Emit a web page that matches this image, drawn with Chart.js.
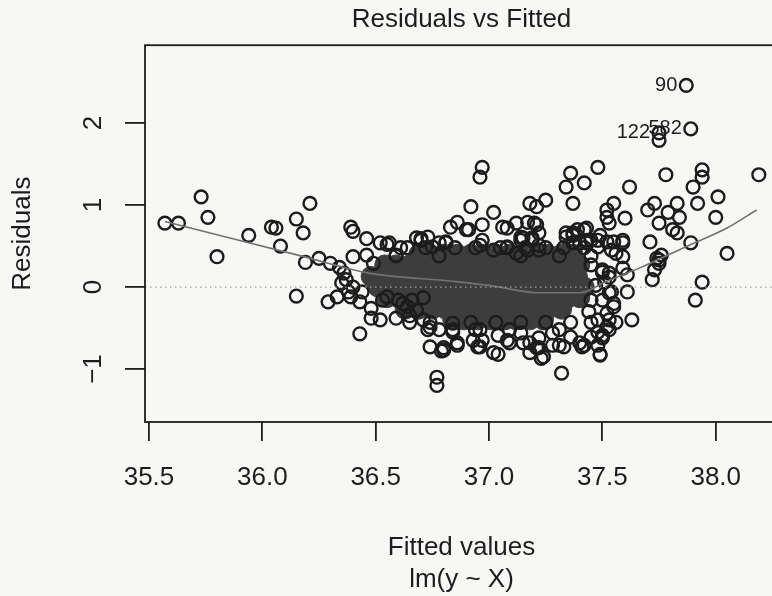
<!DOCTYPE html>
<html>
<head>
<meta charset="utf-8">
<title>Residuals vs Fitted</title>
<script src="https://cdn.jsdelivr.net/npm/chart.js@4.4.0/dist/chart.umd.min.js"></script>
<style>
  html, body { margin: 0; padding: 0; background: #f7f7f5; overflow: hidden; }
  #wrap { width: 772px; height: 596px; overflow: hidden; }
  canvas { display: block; }
</style>
</head>
<body>
<div id="wrap"><canvas id="chart" width="790" height="596"></canvas></div>
<script>
// axis setup
const xTicks = [35.5, 36.0, 36.5, 37.0, 37.5, 38.0];
const yTicks = [-1, 0, 1, 2];
const yTickLabels = ['\u22121', '0', '1', '2'];
const xRange = [35.4824, 38.2747];
const yRange = [-1.646, 2.95];

// open circles: [fitted, residual]
const residPoints = [
  [35.57,0.78],[35.63,0.78],[35.73,1.10],[35.76,0.85],[35.80,0.37],[35.94,0.63],[36.04,0.73],[36.06,0.72],
  [36.08,0.50],[36.15,0.83],[36.21,1.02],[36.18,0.66],[36.19,0.30],[36.15,-0.11],[36.25,0.35],[36.30,0.29],
  [36.34,0.24],[36.36,0.17],[36.29,-0.18],[36.33,-0.12],[36.38,-0.06],[36.39,-0.12],[36.43,-0.18],[36.39,0.73],
  [36.40,0.68],[36.40,0.37],[36.46,0.39],[36.49,0.29],[36.46,0.59],[36.52,0.54],[36.55,0.52],[36.59,0.39],
  [36.64,0.48],[36.68,0.60],[36.70,0.59],[36.81,0.55],[36.86,0.79],[36.48,-0.26],[36.48,-0.38],[36.52,-0.40],
  [36.43,-0.57],[36.59,-0.38],[36.65,-0.35],[36.73,-0.52],[36.74,-0.73],[36.79,-0.78],[36.77,-1.10],[36.77,-1.20],
  [36.84,-0.55],[36.86,-0.68],[36.53,-0.16],[36.55,-0.12],[36.60,-0.16],[36.64,-0.24],[36.68,-0.28],[36.71,-0.40],
  [36.37,0.09],[36.35,0.05],[36.40,0.00],[36.44,-0.06],[36.62,-0.20],[36.66,-0.16],[36.71,-0.13],[36.74,-0.49],
  [36.78,-0.52],[36.84,-0.44],[36.80,-0.74],[36.86,-0.71],[36.95,-0.73],[36.83,0.73],[36.90,0.70],[36.97,0.76],
  [36.81,0.54],[36.70,0.57],[36.75,0.49],[36.73,0.61],[36.56,0.54],
  [37.06,0.73],[37.21,0.76],[37.19,0.60],[37.15,0.60],[37.22,0.51],[37.17,0.45],[37.37,0.63],[37.42,0.70],
  [37.45,0.57],[37.40,0.54],[37.49,0.63],[37.53,0.78],[37.50,0.21],[37.53,0.17],[37.51,0.06],[37.54,-0.06],
  [37.50,-0.16],[37.55,-0.20],[37.52,-0.32],[37.53,-0.40],[37.48,-0.40],[37.48,-0.55],[37.53,-0.52],
  [36.94,-0.52],[36.97,-0.65],[37.04,-0.59],[37.08,-0.65],[37.14,-0.56],[37.18,-0.68],[37.22,-0.62],[37.28,-0.56],
  [37.31,-0.71],[37.36,-0.61],[37.41,-0.73],[37.45,-0.61],[37.50,-0.59],[37.22,-0.74],[37.18,-0.80],
  [36.96,0.51],[37.02,0.45],[37.08,0.49],[37.12,0.41],
  [37.87,2.46],[37.75,1.88],[37.75,1.79],[37.89,1.93],[36.97,1.46],[36.96,1.34],[37.36,1.39],[37.34,1.22],
  [37.42,1.27],[37.48,1.46],[37.37,1.02],[37.62,1.22],[37.78,1.37],[37.94,1.43],[37.94,1.34],[37.90,1.22],
  [37.92,1.02],[38.01,1.10],[38.00,0.85],[38.19,1.37],[36.92,0.98],[37.02,0.91],[36.91,0.70],[37.08,0.72],
  [37.12,0.78],[37.18,1.02],[37.21,0.98],[37.25,1.06],[37.20,0.78],[37.17,0.79],[37.22,0.66],[37.14,0.57],
  [36.78,0.54],[36.97,0.57],[37.34,0.66],[37.39,0.70],[37.43,0.72],[37.37,0.54],[37.43,0.54],[37.48,0.49],
  [37.52,0.55],[37.55,1.02],[37.52,0.94],[37.52,0.85],[37.60,0.84],[37.59,0.57],[37.54,0.45],[37.56,0.41],
  [37.70,0.94],[37.73,1.02],[37.79,0.91],[37.83,1.02],[37.75,0.78],[37.81,0.70],[37.84,0.85],[37.83,0.66],
  [37.71,0.55],[37.74,0.35],[37.75,0.29],[37.89,0.54],[38.05,0.41],
  [37.94,0.06],[37.91,-0.16],[37.72,0.09],[37.73,0.21],[37.75,0.33],[37.76,0.39],[37.61,0.15],[37.61,-0.06],
  [37.63,-0.40],[37.32,-1.05],[37.49,-0.82],[37.42,-0.71],[37.23,-0.87],[37.04,-0.82],[36.80,-0.77],
  [37.53,-0.07],[37.55,-0.24],[37.56,-0.43],[37.50,-0.62],[37.52,-0.49],[37.59,0.54],[37.59,0.37],[37.59,0.23],
  [37.53,0.12],[37.50,0.18],
  [37.08,0.48],[37.14,0.61],[37.19,0.57],[37.22,0.45],[37.34,0.61],[37.37,0.66],[37.43,0.57],[37.48,0.57],
  [37.55,0.55],[36.84,-0.52],[36.93,-0.65],[36.96,-0.73],[37.02,-0.80],[37.09,-0.68],[37.15,-0.68],[37.21,-0.74],
  [37.24,-0.85],[37.28,-0.71],[37.33,-0.73],[37.40,-0.68],[37.48,-0.71],[37.49,-0.83],
  // along the edge of the dense patch
  [36.61,0.48],[36.72,0.48],[36.85,0.48],[36.94,0.48],[37.05,0.48],[37.16,0.48],[37.25,0.48],[37.33,0.48],
  [37.42,0.48],[36.59,0.38],[36.78,0.38],[37.14,0.38],[37.31,0.38],[37.45,0.38],
  [36.65,-0.43],[36.74,-0.43],[36.92,-0.43],[37.03,-0.43],[37.14,-0.43],[37.25,-0.43],[37.36,-0.43],[37.45,-0.43],
  [36.96,-0.52],[37.09,-0.52],[37.31,-0.52],
  [37.45,0.27],[37.47,0.02],[37.45,-0.16],[37.44,-0.30]
];

// the overplotted core, where circles merge into a solid patch
const coreResid = [0.40, 0.27, 0.13, 0.00, -0.13, -0.27, -0.40];
const coreFitted = [
  [36.69, 36.74, 36.80, 36.86, 36.92, 36.97, 37.03, 37.09, 37.15, 37.20, 37.26, 37.32, 37.37],
  [36.54, 36.59, 36.65, 36.71, 36.77, 36.82, 36.88, 36.94, 37.00, 37.05, 37.11, 37.17, 37.22, 37.28, 37.34, 37.40],
  [36.48, 36.53, 36.59, 36.65, 36.70, 36.76, 36.82, 36.88, 36.93, 36.99, 37.05, 37.11, 37.16, 37.22, 37.28, 37.34, 37.39],
  [36.51, 36.56, 36.62, 36.68, 36.74, 36.79, 36.85, 36.91, 36.96, 37.02, 37.08, 37.14, 37.19, 37.25, 37.31, 37.37, 37.42],
  [36.55, 36.60, 36.66, 36.72, 36.77, 36.83, 36.89, 36.95, 37.00, 37.06, 37.12, 37.18, 37.23, 37.29, 37.35, 37.40],
  [36.63, 36.69, 36.75, 36.81, 36.86, 36.92, 36.98, 37.04, 37.09, 37.15, 37.21, 37.26, 37.32],
  [36.84, 36.89, 36.95, 37.01, 37.07, 37.12, 37.18, 37.24]
];

// smoother through the residuals
const smoothFitted = [35.57, 36.17, 36.47, 36.84, 37.00, 37.22, 37.40, 37.52, 37.67, 37.89, 38.05, 38.18];
const smoothResid  = [0.80, 0.38, 0.17, 0.07, 0.02, -0.07, -0.07, 0.07, 0.24, 0.52, 0.72, 0.94];

// labelled observations
const idLabels = ['90', '122', '582'];
const idFitted = [37.87, 37.75, 37.89];
const idResid  = [2.46, 1.88, 1.93];

const FONT = '"Liberation Sans", Arial, Helvetica, sans-serif';
const INK = '#1d1d1d';

const corePoints = [];
coreFitted.forEach((row, i) => row.forEach(x => corePoints.push({ x, y: coreResid[i] })));

const rPlotFrame = {
  id: 'rPlotFrame',
  afterDatasetsDraw(chart) {
    const { ctx, chartArea: a, scales: { x, y } } = chart;
    const y0 = y.getPixelForValue(0);
    ctx.save();
    ctx.strokeStyle = '#a0a0a0';
    ctx.lineWidth = 1.3;
    ctx.setLineDash([1.5, 3.5]);
    ctx.beginPath();
    ctx.moveTo(a.left, y0);
    ctx.lineTo(a.right, y0);
    ctx.stroke();
    ctx.restore();

    ctx.save();
    ctx.fillStyle = INK;
    ctx.font = '20px ' + FONT;
    ctx.textAlign = 'right';
    ctx.textBaseline = 'middle';
    idLabels.forEach((lab, i) => {
      ctx.fillText(lab, x.getPixelForValue(idFitted[i]) - 9, y.getPixelForValue(idResid[i]));
    });
    ctx.restore();
  },
  afterDraw(chart) {
    const { ctx, chartArea: a, scales: { y } } = chart;
    ctx.save();
    ctx.strokeStyle = INK;
    ctx.lineWidth = 1.8;
    ctx.strokeRect(a.left, a.top, a.right - a.left, a.bottom - a.top);

    // R draws the y tick labels parallel to the axis
    ctx.fillStyle = INK;
    ctx.font = '26px ' + FONT;
    ctx.textAlign = 'center';
    ctx.textBaseline = 'alphabetic';
    yTicks.forEach((v, i) => {
      ctx.save();
      ctx.translate(101, y.getPixelForValue(v));
      ctx.rotate(-Math.PI / 2);
      ctx.fillText(yTickLabels[i], 0, 0);
      ctx.restore();
    });
    ctx.restore();
  }
};

new Chart(document.getElementById('chart'), {
  type: 'scatter',
  data: {
    datasets: [
      {
        label: 'smooth',
        data: smoothFitted.map((x, i) => ({ x, y: smoothResid[i] })),
        showLine: true,
        borderColor: '#727272',
        borderWidth: 1.6,
        pointRadius: 0,
        cubicInterpolationMode: 'monotone',
        order: 0
      },
      {
        label: 'residuals',
        data: residPoints.map(p => ({ x: p[0], y: p[1] })),
        pointRadius: 6.4,
        borderWidth: 2.4,
        borderColor: '#1c1c1c',
        backgroundColor: 'rgba(0,0,0,0)',
        order: 1
      },
      {
        label: 'core',
        data: corePoints,
        pointRadius: 10,
        borderWidth: 1,
        borderColor: '#3d3d3d',
        backgroundColor: '#3d3d3d',
        order: 2
      }
    ]
  },
  options: {
    responsive: false,
    animation: false,
    devicePixelRatio: 1,
    layout: { padding: { left: 0, right: 12, top: 0, bottom: 0 } },
    plugins: {
      legend: { display: false },
      tooltip: { enabled: false },
      title: {
        display: true,
        fullSize: false,
        text: 'Residuals vs Fitted',
        color: INK,
        font: { family: FONT, size: 26, weight: 'normal', lineHeight: 1.2 },
        padding: { top: 4, bottom: 10 }
      }
    },
    scales: {
      x: {
        type: 'linear',
        min: xRange[0],
        max: xRange[1],
        afterBuildTicks: s => { s.ticks = xTicks.map(v => ({ value: v })); },
        afterFit: s => { s.height = 174; },
        border: { display: false },
        grid: { drawOnChartArea: false, drawTicks: true, tickLength: 19, color: INK, lineWidth: 1.8 },
        ticks: {
          color: INK,
          font: { family: FONT, size: 26 },
          padding: 21,
          maxRotation: 0,
          autoSkip: false,
          callback: v => Number(v).toFixed(1)
        },
        title: {
          display: true,
          text: ['Fitted values', 'lm(y ~ X)'],
          color: INK,
          font: { family: FONT, size: 26, lineHeight: 1.23 },
          padding: { top: 0, bottom: 0 }
        }
      },
      y: {
        type: 'linear',
        min: yRange[0],
        max: yRange[1],
        afterBuildTicks: s => { s.ticks = yTicks.map(v => ({ value: v })); },
        afterFit: s => { s.width = 145; },
        border: { display: false },
        grid: { drawOnChartArea: false, drawTicks: true, tickLength: 20, color: INK, lineWidth: 1.8 },
        ticks: { display: false },
        title: {
          display: true,
          text: 'Residuals',
          color: INK,
          font: { family: FONT, size: 26, lineHeight: 1.2 },
          padding: { top: 7, bottom: 0 }
        }
      }
    }
  },
  plugins: [rPlotFrame]
});
</script>
</body>
</html>
